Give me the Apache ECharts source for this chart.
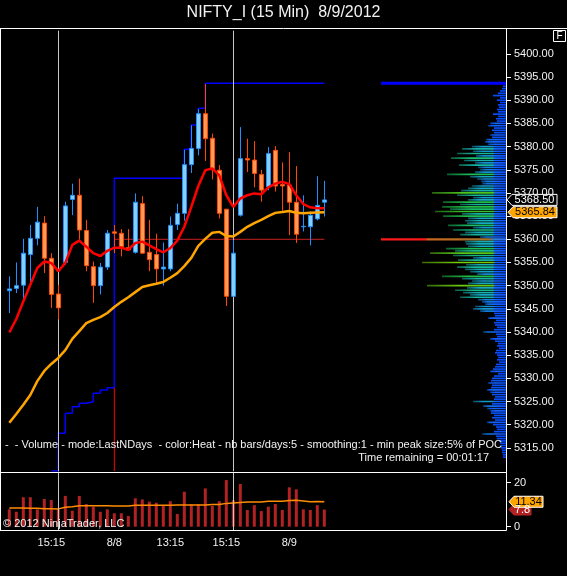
<!DOCTYPE html>
<html>
<head>
<meta charset="utf-8">
<title>NIFTY_I (15 Min) 8/9/2012</title>
<script src="https://cdn.jsdelivr.net/npm/echarts@6.0.0/dist/echarts.min.js"></script>
<style>
html,body{margin:0;padding:0;background:#000;overflow:hidden;}
#chart{width:567px;height:576px;}
</style>
</head>
<body>
<div id="chart"></div>
<script>
// ---------------- data ----------------
const xLabels = ['','','','','','','15:15','','','','','','','','','8/8','','','','','','','','13:15','','','','','','','','15:15','','','','','','','','','8/9','','','','',''];
const candleOpen  = [5348.9,5349.4,5350.1,5356.7,5360.2,5363.5,5355.9,5348.2,5355.0,5368.6,5369.5,5361.9,5354.1,5350.0,5354.0,5361.6,5361.3,5358.2,5357.2,5367.7,5357.2,5356.7,5353.6,5353.6,5363.2,5365.6,5376.1,5379.6,5387.1,5381.8,5374.9,5366.5,5347.7,5365.2,5377.4,5377.1,5374.0,5371.3,5379.2,5371.8,5371.7,5368.0,5362.7,5362.7,5364.4,5368.0];
const candleHigh  = [5352.0,5355.0,5360.1,5363.1,5367.0,5365.0,5357.0,5350.2,5368.1,5372.0,5373.1,5364.2,5355.2,5354.9,5362.0,5363.1,5362.2,5362.2,5369.9,5369.3,5364.2,5361.2,5359.3,5364.9,5367.7,5379.3,5384.6,5388.1,5393.5,5382.8,5376.0,5366.5,5359.9,5384.2,5381.7,5381.2,5375.0,5379.9,5380.1,5376.6,5378.8,5375.8,5369.5,5366.0,5373.6,5372.6];
const candleLow   = [5344.1,5348.4,5346.6,5349.8,5358.7,5352.7,5345.2,5342.7,5354.5,5365.2,5359.9,5353.1,5346.3,5348.1,5353.4,5357.0,5356.3,5357.6,5356.9,5356.9,5353.1,5350.4,5350.0,5353.1,5362.0,5364.0,5374.3,5378.1,5376.9,5372.9,5364.5,5345.6,5347.7,5364.9,5374.5,5371.2,5368.1,5370.6,5370.3,5366.2,5360.9,5359.2,5361.7,5358.7,5364.1,5364.9];
const candleClose = [5349.3,5350.0,5357.0,5360.2,5363.7,5355.9,5348.1,5345.2,5367.2,5369.5,5362.0,5354.3,5350.0,5354.0,5361.3,5361.3,5358.4,5357.7,5368.0,5357.0,5355.6,5353.6,5354.0,5363.0,5365.6,5376.1,5379.6,5387.1,5381.7,5375.0,5365.6,5347.7,5357.0,5377.4,5377.1,5374.2,5370.6,5378.5,5371.5,5371.5,5368.0,5361.1,5362.8,5365.2,5367.3,5368.5];
const fastAvg = [5339.9,5342.8,5346.6,5350.2,5353.8,5355.2,5354.9,5353.1,5354.9,5358.8,5359.7,5358.4,5357.0,5356.4,5357.5,5358.2,5358.2,5357.7,5359.2,5359.5,5358.7,5357.9,5357.2,5358.1,5359.7,5362.7,5367.0,5371.5,5374.9,5375.3,5373.8,5369.5,5367.0,5368.8,5369.5,5369.9,5369.7,5371.2,5372.0,5372.4,5371.9,5369.5,5367.6,5366.9,5366.7,5366.7];
const slowAvg = [5320.4,5322.3,5324.3,5326.4,5329.4,5331.6,5333.1,5334.4,5336.1,5338.5,5340.2,5341.9,5342.6,5343.2,5344.1,5345.4,5346.5,5347.5,5348.6,5349.7,5350.1,5350.4,5350.8,5351.7,5352.7,5354.2,5356.0,5358.6,5360.1,5361.4,5361.6,5360.7,5360.6,5361.6,5362.7,5363.5,5364.2,5365.0,5365.7,5365.9,5366.1,5365.7,5365.6,5365.7,5365.8,5365.84];
const sessionHigh = [null,null,null,null,null,null,null,5310,5318.14,5322.46,5323.88,5324.62,5324.96,5326.77,5327.49,5327.98,
  5373.16,5373.16,5373.16,5373.16,5373.16,5373.16,5373.16,5373.16,5373.16,5373.16,5379.42,5384.66,5388.26,
  5393.66,5393.66,5393.66,5393.66,5393.66,5393.66,5393.66,5393.66,5393.66,5393.66,5393.66,5393.66,5393.66,5393.66,5393.66,5393.66,5393.66];
const volumes = [7.9,6.8,13.4,13.4,7.9,12.6,12.1,7.9,14.0,7.3,14.0,10.3,9.1,6.8,7.9,6.1,6.1,4.9,12.9,12.4,11.4,10.9,9.4,11.6,5.8,15.9,10.2,10.2,17.4,9.4,11.6,21.2,12.1,19.4,7.6,9.8,7.1,9.1,10.3,7.6,17.9,17.0,7.9,7.6,9.8,7.8];
const volumeAvg = [8.5,8.5,8.5,8.4,8.4,8.2,8.2,8.1,8.8,9.1,9.5,9.5,9.5,9.5,9.5,9.4,9.4,9.4,9.8,9.8,9.8,9.8,9.8,9.8,9.9,9.9,9.9,9.9,9.9,10.1,10.1,10.6,10.8,11.0,11.2,11.2,11.2,11.6,11.6,11.6,11.9,12.0,11.7,11.3,11.5,11.34];
const priceTicks = [5315,5320,5325,5330,5335,5340,5345,5350,5355,5360,5365,5370,5375,5380,5385,5390,5395,5400];
const volumeTicks = [0,20];
const dividerIndices = [7,32];
const sessionStartIndex = 15;
const pocPrice = 5360.0;
const profileBin = 0.5;
// [price, volume] of the volume profile (POC = 125)
const profileBins = [
[5393.5,2],[5393,3],[5392.5,4],[5392,6],[5391.5,8],[5391,13],[5390.5,6],[5390,9],[5389.5,6],[5389,8],
[5388.5,7],[5388,9],[5387.5,8],[5387,13],[5386.5,8],[5386,10],[5385.5,9],[5385,16],[5384.5,18],[5384,12],
[5383.5,14],[5383,12],[5382.5,16],[5382,14],[5381.5,20],[5381,21],[5380.5,18],[5380,34],[5379.5,44],[5379,33],
[5378.5,49],[5378,30],[5377.5,55],[5377,42],[5376.5,31],[5376,47],[5375.5,28],[5375,26],[5374.5,31],[5374,59],
[5373.5,36],[5373,29],[5372.5,25],[5372,24],[5371.5,34],[5371,38],[5370.5,45],[5370,74],[5369.5,49],[5369,33],
[5368.5,38],[5368,63],[5367.5,46],[5367,64],[5366.5,56],[5366,71],[5365.5,44],[5365,63],[5364.5,38],[5364,41],
[5363.5,39],[5363,58],[5362.5,33],[5362,53],[5361.5,41],[5361,46],[5360.5,26],[5360,125],[5359.5,41],[5359,40],
[5358.5,38],[5358,60],[5357.5,51],[5357,76],[5356.5,53],[5356,33],[5355.5,48],[5355,84],[5354.5,40],[5354,49],
[5353.5,41],[5353,36],[5352.5,29],[5352,64],[5351.5,44],[5351,34],[5350.5,38],[5350,79],[5349.5,39],[5349,51],
[5348.5,43],[5348,36],[5347.5,46],[5347,28],[5346.5,24],[5346,21],[5345.5,31],[5345,33],[5344.5,26],[5344,12],
[5343.5,11],[5343,18],[5342.5,10],[5342,12],[5341.5,11],[5341,9],[5340.5,12],[5340,23],[5339.5,10],[5339,9],
[5338.5,16],[5338,11],[5337.5,8],[5337,9],[5336.5,7],[5336,10],[5335.5,11],[5335,9],[5334.5,8],[5334,9],
[5333.5,7],[5333,10],[5332.5,11],[5332,13],[5331.5,16],[5331,8],[5330.5,12],[5330,14],[5329.5,15],[5329,18],
[5328.5,14],[5328,15],[5327.5,19],[5327,16],[5326.5,14],[5326,11],[5325.5,12],[5325,33],[5324.5,14],[5324,23],
[5323.5,19],[5323,16],[5322.5,15],[5322,12],[5321.5,14],[5321,11],[5320.5,19],[5320,13],[5319.5,10],[5319,9],
[5318.5,12],[5318,24],[5317.5,10],[5317,9],[5316.5,7],[5316,6],[5315.5,5],[5315,5],[5314.5,4],[5314,4],
[5313.5,3],[5313,3]];

// ---------------- styling helpers ----------------
const FONT = 'Liberation Sans, Arial, sans-serif';
const TXT = '#f2f2f2';
const priceMin = 5310, priceMax = 5405;
const profileMax = 125;
const categories = xLabels.map((l, i) => String(i));
const candles = candleOpen.map((o, i) => [o, candleClose[i], candleLow[i], candleHigh[i]]);

const heatStops = [[0,[0,60,255]],[0.13,[10,84,240]],[0.22,[20,130,215]],[0.3,[20,170,195]],[0.38,[20,185,160]],
  [0.46,[24,190,100]],[0.54,[34,190,50]],[0.62,[100,200,20]],[0.7,[130,210,0]]];
function heat(r) {
  if (r <= heatStops[0][0]) return heatStops[0][1];
  for (let i = 1; i < heatStops.length; i++) {
    if (r <= heatStops[i][0]) {
      const a = heatStops[i-1], b = heatStops[i];
      const t = (r - a[0]) / (b[0] - a[0]);
      return a[1].map((c, k) => Math.round(c + (b[1][k] - c) * t));
    }
  }
  return heatStops[heatStops.length-1][1];
}
const rgb = c => 'rgb(' + c.join(',') + ')';
const dark = c => 'rgb(' + c.map(v => Math.round(v * 0.5)).join(',') + ')';
function profileFill(v, w) {
  if (v >= profileMax) {
    return new echarts.graphic.LinearGradient(0,0,1,0,[
      {offset:0,color:'#ff1a1a'},{offset:0.36,color:'#ff1a1a'},{offset:0.37,color:'#c8641e'},
      {offset:0.86,color:'#a8742a'},{offset:0.9,color:'#3c82d0'},{offset:1,color:'#2a72ff'}]);
  }
  const c = heat(v / profileMax);
  if (w < 16) return rgb(c);
  const s = Math.max(0.3, 1 - 13 / w);
  return new echarts.graphic.LinearGradient(0,0,1,0,[
    {offset:0,color:dark(c)},{offset:s*0.5,color:rgb(c)},{offset:s,color:rgb(c)},
    {offset:Math.min(1,s+0.03),color:'#1668ff'},{offset:1,color:'#0c50ff'}]);
}
function profileItem(params, api) {
  const price = api.value(0), vol = api.value(1);
  const right = api.coord([0, price]);
  const left = api.coord([vol, price]);
  const h = api.size([0, profileBin])[1];
  const w = right[0] - left[0];
  const hh = vol >= profileMax ? h : h * 0.72;
  return {type:'rect', shape:{x:left[0], y:right[1]-hh/2, width:w, height:hh},
          style:{fill: profileFill(vol, w)}};
}

const chart = echarts.init(document.getElementById('chart'), null, {renderer:'canvas', width:567, height:576});
const dividerLines = {
  silent:true, symbol:['none','none'], label:{show:false},
  lineStyle:{color:'#c8c8c8', width:1, type:'solid'},
  data: dividerIndices.map(i => ({xAxis:i}))
};

const option = {
  backgroundColor:'#000000',
  animation:false,
  textStyle:{fontFamily:FONT},
  grid:[
    {left:5.8, top:30.7, width:322, height:440.35, outerBoundsMode:'none'},
    {left:381, top:30.7, width:125, height:440.35, outerBoundsMode:'none'},
    {left:5.8, top:471.7, width:322, height:58.3, outerBoundsMode:'none'}
  ],
  xAxis:[
    {type:'category', gridIndex:0, data:categories, boundaryGap:true, show:false},
    {type:'category', gridIndex:2, data:categories, boundaryGap:true,
     axisLine:{show:false}, axisTick:{show:false}, splitLine:{show:false},
     axisLabel:{interval:0, margin:7, color:TXT, fontSize:11, fontFamily:FONT, formatter:(v,i)=>xLabels[i]}},
    {type:'value', gridIndex:1, min:0, max:profileMax, inverse:true, show:false}
  ],
  yAxis:[
    {type:'value', gridIndex:0, min:priceMin, max:priceMax, position:'right', offset:178.2,
     axisLine:{show:false}, splitLine:{show:false},
     axisTick:{show:true, length:5, customValues:priceTicks, lineStyle:{color:'#ffffff'}},
     axisLabel:{customValues:priceTicks, margin:8, color:TXT, fontSize:11, fontFamily:FONT, formatter:v=>v.toFixed(2)}},
    {type:'value', gridIndex:1, min:priceMin, max:priceMax, show:false},
    {type:'value', gridIndex:2, min:-1.5, max:25, position:'right', offset:178.2,
     axisLine:{show:false}, splitLine:{show:false},
     axisTick:{show:true, length:5, customValues:volumeTicks, lineStyle:{color:'#ffffff'}},
     axisLabel:{customValues:volumeTicks, margin:8, color:TXT, fontSize:11, fontFamily:FONT}}
  ],
  series:[
    {type:'candlestick', name:'NIFTY_I', xAxisIndex:0, yAxisIndex:0, data:candles, barWidth:5, z:5,
     itemStyle:{color:'#87cefa', color0:'#ff9955', borderColor:'#1e90ff', borderColor0:'#ff4500', borderWidth:1}},
    {type:'line', name:'fast', xAxisIndex:0, yAxisIndex:0, data:fastAvg, symbol:'none', z:6,
     lineStyle:{color:'#ff0000', width:2.5}},
    {type:'line', name:'slow', xAxisIndex:0, yAxisIndex:0, data:slowAvg, symbol:'none', z:6,
     lineStyle:{color:'#ffa500', width:2.5}},
    {type:'line', name:'sessionHigh', xAxisIndex:0, yAxisIndex:0, data:sessionHigh, step:'start', symbol:'none', z:4,
     lineStyle:{color:'#0000ff', width:1.5}},
    {type:'line', name:'sessionStart', xAxisIndex:0, yAxisIndex:0, symbol:'none', z:4,
     data:[[sessionStartIndex, sessionHigh[sessionStartIndex]],[sessionStartIndex, priceMin]],
     lineStyle:{color:'#ff0000', width:1}},
    {type:'line', name:'poc', xAxisIndex:0, yAxisIndex:0, symbol:'none', z:3,
     data:[[sessionStartIndex, pocPrice],[categories.length-1, pocPrice]],
     lineStyle:{color:'#cc2020', width:1}, markLine:dividerLines},
    {type:'custom', name:'profile', xAxisIndex:2, yAxisIndex:1, data:profileBins, encode:{x:1, y:0},
     renderItem:profileItem, z:2, silent:true},
    {type:'line', name:'profileHigh', xAxisIndex:2, yAxisIndex:1, symbol:'none', z:3,
     data:[[0, sessionHigh[sessionHigh.length-1]],[profileMax, sessionHigh[sessionHigh.length-1]]],
     lineStyle:{color:'#0000ff', width:3}},
    {type:'bar', name:'volume', xAxisIndex:1, yAxisIndex:2, data:volumes, barWidth:3, z:3,
     itemStyle:{color:'#b22222'}, markLine:dividerLines},
    {type:'line', name:'volumeAvg', xAxisIndex:1, yAxisIndex:2, data:volumeAvg, symbol:'none', z:4,
     lineStyle:{color:'#ff8c00', width:1.5}}
  ]
};
chart.setOption(option);

// ---------- frame, texts and value tags ----------
function hline(x1, x2, y) { return {type:'line', shape:{x1:x1, y1:y, x2:x2, y2:y}, style:{stroke:'#ffffff', lineWidth:1}, z:50}; }
function vline(x, y1, y2) { return {type:'line', shape:{x1:x, y1:y1, x2:x, y2:y2}, style:{stroke:'#ffffff', lineWidth:1}, z:50}; }
function text(x, y, t, align, size, color) {
  return {type:'text', x:x, y:y, z:60, style:{text:t, fill:color||TXT, font:(size||11)+'px '+FONT, align:align||'left', verticalAlign:'middle'}};
}
function tag(y, t, fill, stroke, tc, x0, x1) {
  return [
    {type:'polygon', z:70, shape:{points:[[x0,y],[x0+5,y-5.5],[x1,y-5.5],[x1,y+5.5],[x0+5,y+5.5]]}, style:{fill:fill, stroke:stroke, lineWidth:1}},
    {type:'text', x:(x0+5+x1)/2, y:y, z:71, style:{text:t, fill:tc, font:'11px '+FONT, align:'center', verticalAlign:'middle'}}
  ];
}
const last = categories.length - 1;
const yPrice = chart.convertToPixel({yAxisIndex:0}, candleClose[last]);
const ySlow = chart.convertToPixel({yAxisIndex:0}, slowAvg[last]);
const yVolAvg = chart.convertToPixel({yAxisIndex:2}, volumeAvg[last]);
const yVol = chart.convertToPixel({yAxisIndex:2}, volumes[last]);

const graphics = [
  hline(0, 567, 28.5), hline(0, 506.5, 472.5), hline(0, 506.5, 530.5),
  vline(0.5, 28.5, 530.5), vline(506.5, 28.5, 530.5),
  {type:'rect', z:60, shape:{x:553.5, y:30.5, width:12, height:11}, style:{fill:'#000', stroke:'#ffffff', lineWidth:1}},
  text(559.5, 36.5, 'F', 'center', 10, '#ffffff'),
  text(283.5, 13, 'NIFTY_I (15 Min)  8/9/2012', 'center', 16, TXT),
  text(502, 444.5, '-  - Volume - mode:LastNDays  - color:Heat - nb bars/days:5 - smoothing:1 - min peak size:5% of POC', 'right', 11),
  text(489, 457.5, 'Time remaining = 00:01:17', 'right', 11),
  text(3, 524, '\u00a9 2012 NinjaTrader, LLC', 'left', 11)
]
.concat(tag(ySlow, slowAvg[last].toFixed(2), '#ffa500', '#ffffff', '#000000', 508, 557))
.concat(tag(yPrice, candleClose[last].toFixed(2), '#000000', '#ffffff', '#ffffff', 507, 557))
.concat(tag(yVol, volumes[last].toFixed(1), '#b22222', '#b22222', '#ffffff', 509, 531))
.concat(tag(yVolAvg, volumeAvg[last].toFixed(2), '#ffa500', '#ffffff', '#000000', 509, 543));

chart.setOption({graphic:{elements:graphics}});
</script>
</body>
</html>
